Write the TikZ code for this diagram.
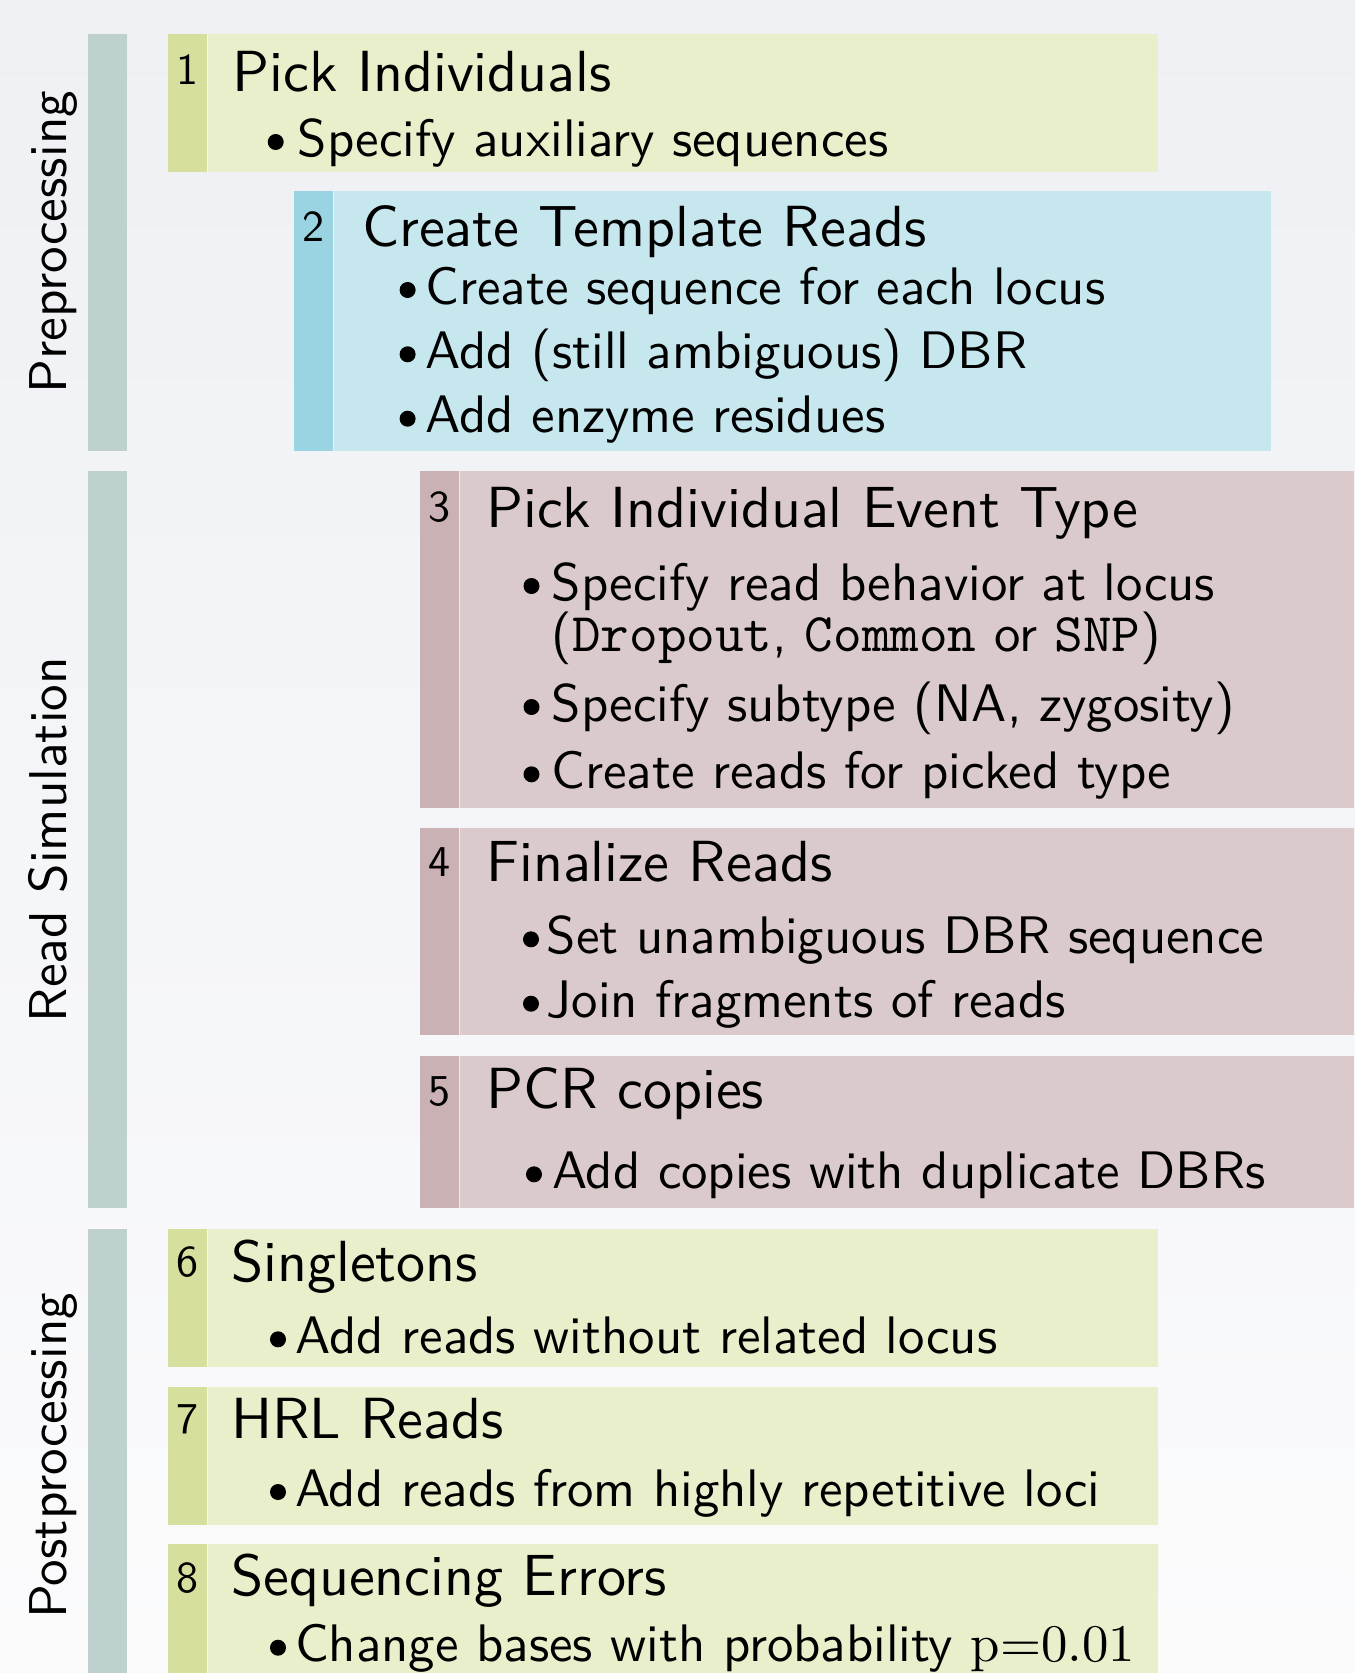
\documentclass[tikz,border=0pt]{standalone}
\usepackage{fontspec}
\newfontfamily\lmsans{lmsans10-regular.otf}
\newfontfamily\lmmono{lmmono10-regular.otf}
\newfontfamily\lmroman{lmroman10-regular.otf}
\definecolor{bgtop}{RGB}{238,240,244}
\definecolor{bgbot}{RGB}{251,251,252}
\definecolor{gfill}{RGB}{233,238,203}
\definecolor{gstrip}{RGB}{215,223,158}
\definecolor{bfill}{RGB}{198,231,238}
\definecolor{bstrip}{RGB}{154,212,226}
\definecolor{rfill}{RGB}{219,202,203}
\definecolor{rstrip}{RGB}{202,177,179}
\definecolor{barcol}{RGB}{191,209,207}
\newcommand\mono[1]{{\fontsize{54.5}{64}\lmmono #1}}
\tikzset{
  ttl/.style={anchor=base west, inner sep=0pt, font=\fontsize{58}{68}\lmsans},
  itm/.style={anchor=base west, inner sep=0pt, font=\fontsize{52.8}{64}\lmsans},
  numtxt/.style={anchor=base, inner sep=0pt, font=\fontsize{44}{52}\lmsans},
  side/.style={anchor=base, rotate=90, inner sep=0pt, font=\fontsize{53.2}{60}\lmsans},
  bdot/.style={circle, fill=black, draw=none, minimum size=16pt, inner sep=0pt},
}
\newcommand\procbox[6]{%
  \fill[#5] (#1,#2) rectangle (#3,#4);
  \fill[#6] (#1,#2) rectangle ({#1+39},#4);
  \draw[#5!40!white, line width=0.9pt] ({#1+39.5},#2) -- ({#1+39.5},#4);
}
\newcommand\bul[5]{%
  \node[bdot] (#1d) at (#2,{#4-14}) {};
  \node[itm] (#1) at (#3,#4) {#5};
}
\begin{document}
\begin{tikzpicture}[x=1pt,y=-1pt]
\useasboundingbox (0,0) rectangle (1355,1673);
\clip (0,0) rectangle (1355,1673);
\shade[top color=bgtop, bottom color=bgbot] (0,0) rectangle (1355,1673);

% phase bars
\fill[barcol] (88,34) rectangle (127,450.7);
\fill[barcol] (88,471) rectangle (127,1208.3);
\fill[barcol] (88,1229) rectangle (127,1682.4);
\node[side] (pre) at (66,242.3) {Preprocessing};
\node[side] (sim) at (66,839.7) {Read Simulation};
\node[side] (post) at (66,1455.7) {Postprocessing};

% box 1
\procbox{168}{34}{1158}{171.7}{gfill}{gstrip}
\node[numtxt] (n1) at (187.5,84) {1};
\node[ttl] (t1) at (232.5,91) {Pick Individuals};
\bul{i1a}{275.7}{297.5}{156}{Specify auxiliary sequences}

% box 2
\procbox{294}{191}{1271}{450.7}{bfill}{bstrip}
\node[numtxt] (n2) at (313.5,241) {2};
\node[ttl] (t2) at (362,246.5) {Create Template Reads};
\bul{i2a}{407.6}{425.5}{304}{Create sequence for each locus}
\bul{i2b}{407.6}{425.5}{368.3}{Add (still ambiguous) DBR}
\bul{i2c}{407.6}{425.5}{432.7}{Add enzyme residues}

% box 3
\procbox{420.4}{471}{1354}{808.3}{rfill}{rstrip}
\node[numtxt] (n3) at (439.7,521) {3};
\node[ttl] (t3) at (486,527) {Pick Individual Event Type};
\bul{i3a}{531.5}{551.5}{600}{Specify read behavior at locus}
\node[itm] (i3a2) at (551.5,651.7) {(\mono{Dropout}, \mono{Common} or \mono{SNP})};
\bul{i3b}{531.5}{551.5}{721}{Specify subtype (NA, zygosity)}
\bul{i3c}{531.5}{551.5}{788.3}{Create reads for picked type}

% box 4
\procbox{420.4}{828.3}{1354}{1035}{rfill}{rstrip}
\node[numtxt] (n4) at (439.7,876) {4};
\node[ttl] (t4) at (486,881) {Finalize Reads};
\bul{i4a}{531}{546.5}{953.3}{Set unambiguous DBR sequence}
\bul{i4b}{531}{546.5}{1017.7}{Join fragments of reads}

% box 5
\procbox{420.4}{1056}{1354}{1208.3}{rfill}{rstrip}
\node[numtxt] (n5) at (439.7,1105) {5};
\node[ttl] (t5) at (486.5,1108.5) {PCR copies};
\bul{i5a}{534}{552}{1188.3}{Add copies with duplicate DBRs}

% box 6
\procbox{168}{1229}{1158}{1366.7}{gfill}{gstrip}
\node[numtxt] (n6) at (187.5,1276) {6};
\node[ttl] (t6) at (231,1281) {Singletons};
\bul{i6a}{278}{295.5}{1353.3}{Add reads without related locus}

% box 7
\procbox{168}{1387.3}{1158}{1524.7}{gfill}{gstrip}
\node[numtxt] (n7) at (187.5,1433.3) {7};
\node[ttl] (t7) at (231,1438.3) {HRL Reads};
\bul{i7a}{278}{295}{1506}{Add reads from highly repetitive loci}

% box 8
\procbox{168}{1544}{1158}{1681.7}{gfill}{gstrip}
\node[numtxt] (n8) at (187.5,1592) {8};
\node[ttl] (t8) at (231,1595.5) {Sequencing Errors};
\bul{i8a}{278}{295}{1661.7}{Change bases with probability {\lmroman p=0.01}}
\end{tikzpicture}
\end{document}
